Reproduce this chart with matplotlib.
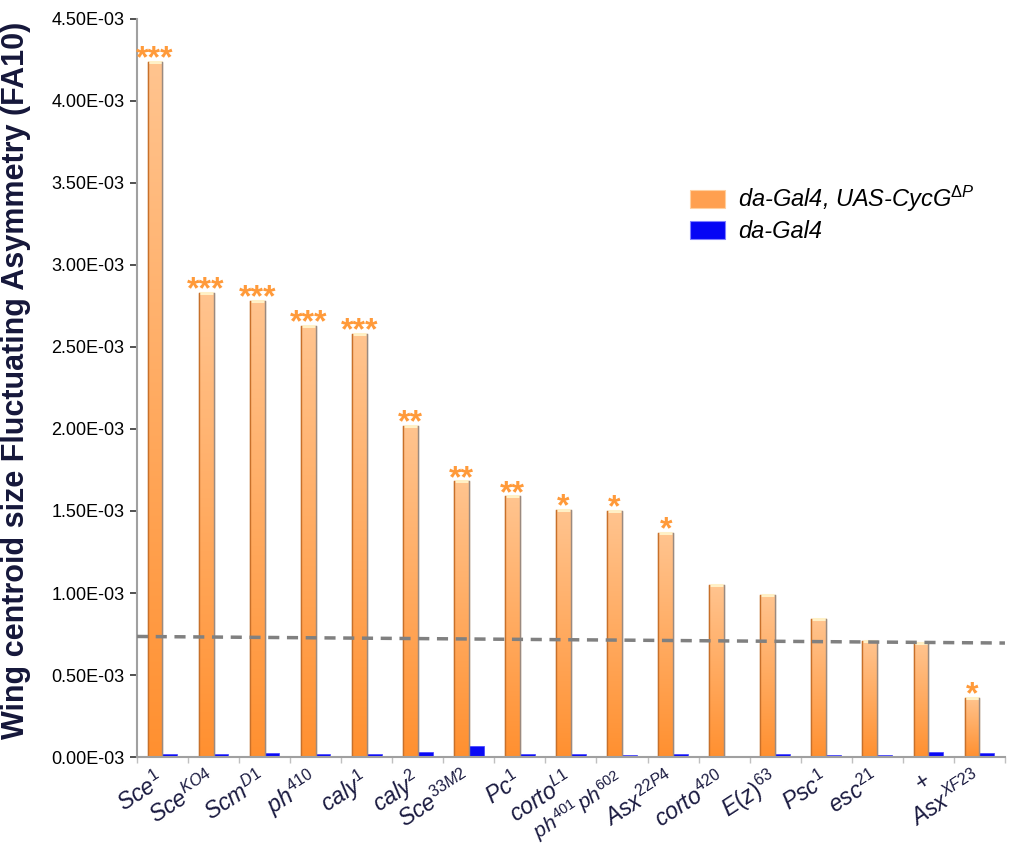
import matplotlib
matplotlib.use("Agg")
import matplotlib.pyplot as plt
import numpy as np
from matplotlib.patches import Patch
from matplotlib.colors import LinearSegmentedColormap
from matplotlib.ticker import FuncFormatter, FixedLocator
from matplotlib.transforms import ScaledTranslation

plt.rcParams['font.family'] = ['Liberation Sans', 'DejaVu Sans']
plt.rcParams['mathtext.fontset'] = 'custom'
plt.rcParams['mathtext.rm'] = 'Liberation Sans'
plt.rcParams['mathtext.it'] = 'Liberation Sans:italic'
plt.rcParams['mathtext.bf'] = 'Liberation Sans:bold'

# ---- data ----
categories = [r'$\mathit{Sce}^{\mathit{1}}$', r'$\mathit{Sce}^{\mathit{KO4}}$', r'$\mathit{Scm}^{\mathit{D1}}$',
              r'$\mathit{ph}^{\mathit{410}}$', r'$\mathit{caly}^{\mathit{1}}$', r'$\mathit{caly}^{\mathit{2}}$',
              r'$\mathit{Sce}^{\mathit{33M2}}$', r'$\mathit{Pc}^{\mathit{1}}$', r'$\mathit{corto}^{\mathit{L1}}$',
              r'$\mathit{ph}^{\mathit{401}}\,\mathit{ph}^{\mathit{602}}$', r'$\mathit{Asx}^{\mathit{22P4}}$',
              r'$\mathit{corto}^{\mathit{420}}$', r'$\mathit{E(z)}^{\mathit{63}}$', r'$\mathit{Psc}^{\mathit{1}}$',
              r'$\mathit{esc}^{\mathit{21}}$', '+', r'$\mathit{Asx}^{\mathit{XF23}}$']
cycg_vals = [4.24e-3, 2.83e-3, 2.78e-3, 2.63e-3, 2.58e-3, 2.02e-3, 1.68e-3, 1.59e-3, 1.505e-3,
             1.50e-3, 1.365e-3, 1.046e-3, 0.985e-3, 0.84e-3, 0.706e-3, 0.695e-3, 0.36e-3]
gal4_vals = [0.016e-3, 0.016e-3, 0.024e-3, 0.018e-3, 0.020e-3, 0.033e-3, 0.067e-3, 0.020e-3, 0.016e-3,
             0.010e-3, 0.018e-3, 0.008e-3, 0.016e-3, 0.012e-3, 0.010e-3, 0.030e-3, 0.024e-3]
stars = ['***', '***', '***', '***', '***', '**', '**', '**', '*', '*', '*', '', '', '', '', '', '*']
ref_line = [0.735e-3, 0.695e-3]
legend_labels = [r'da-Gal4, UAS-CycG$^{\mathit{\Delta P}}$', 'da-Gal4']

# ---- figure ----
fig = plt.figure(figsize=(10.10, 8.43), dpi=100)
ax = fig.add_axes([0.1356, 0.102, 0.8594, 0.8755])

n = len(categories)
x = np.arange(n)
bw = 0.29
bars_o = ax.bar(x - bw / 2, cycg_vals, width=bw, color='#ffa655', edgecolor='#b97a45',
                linewidth=0.9, zorder=2)
bars_b = ax.bar(x + bw / 2, gal4_vals, width=bw, color='#0a0af5', edgecolor='#4040ff',
                linewidth=0.5, zorder=2)

cmap = LinearSegmentedColormap.from_list('og', ['#ff9030', '#ffc48f'])
grad = np.linspace(0, 1, 256).reshape(-1, 1)
for p in bars_o:
    x0, w, h = p.get_x(), p.get_width(), p.get_height()
    im = ax.imshow(grad, extent=[x0, x0 + w, 0, h], origin='lower', aspect='auto',
                   cmap=cmap, zorder=2.1, interpolation='bicubic')
    im.set_clip_path(p)
    ax.plot([x0 + w * 0.05, x0 + w * 0.95], [h, h], color='#fff0c6', lw=2.2,
            solid_capstyle='butt', zorder=2.3)
    ax.plot([x0, x0], [0, h], color='#c8702a', lw=1.0, zorder=2.4)
    ax.plot([x0 + w, x0 + w], [0, h], color='#9a8a80', lw=1.0, zorder=2.4)

for p, s in zip(bars_o, stars):
    if s:
        ax.annotate(s, (p.get_x() + p.get_width() / 2, p.get_height()), xytext=(0, -4),
                    textcoords='offset points', ha='center', va='baseline',
                    color='#ff9a3a', fontsize=23, fontweight='bold', zorder=4)

ax.plot([-0.5, n - 0.5], ref_line, color='#808080', lw=2.5, ls=(0, (3.2, 2.2)), zorder=3)

ax.set_xlim(-0.5, n - 0.5)
ax.set_ylim(0, 4.5e-3)
ax.yaxis.set_major_locator(FixedLocator(np.arange(0, 4.51e-3, 0.5e-3)))
ax.yaxis.set_major_formatter(FuncFormatter(lambda v, pos: '%.2fE-03' % (v * 1e3)))
ax.tick_params(axis='y', labelsize=13, length=5, width=1.2, color='#333333', pad=4)

ax.set_xticks(x)
ax.set_xticklabels(categories, rotation=33, ha='right', va='center', rotation_mode='anchor',
                   fontsize=16.5, color='#1a1a40')
shift = ScaledTranslation(8 / 72, 0, fig.dpi_scale_trans)
for lab in ax.get_xticklabels():
    lab.set_transform(lab.get_transform() + shift)
    if 'ph}^{\\mathit{401' in lab.get_text():
        lab.set_fontsize(15)
ax.set_xticks(np.arange(-0.5, n, 1.0), minor=True)
ax.tick_params(axis='x', which='major', length=0, pad=15)
ax.tick_params(axis='x', which='minor', length=4, width=1, color='#c0c0c0')

for sp in ['top', 'right']:
    ax.spines[sp].set_visible(False)
ax.spines['left'].set_color('#a0a0a0')
ax.spines['left'].set_linewidth(1.5)
ax.spines['bottom'].set_color('#a0a0a0')
ax.spines['bottom'].set_linewidth(1.5)

ax.set_ylabel('Wing centroid size Fluctuating Asymmetry (FA10)', fontsize=22,
              fontweight='bold', color='#15173a')
ax.yaxis.set_label_coords(-0.122, 0.51)

handles = [Patch(facecolor='#ffa050', edgecolor='#ffd0a0', linewidth=0.8),
           Patch(facecolor='#0505f5', edgecolor='#8080ff', linewidth=0.8)]
leg = fig.legend(handles, legend_labels, loc='upper left', bbox_to_anchor=(0.683, 0.782),
                 frameon=False, prop={'style': 'italic', 'size': 17}, handlelength=1.5,
                 handleheight=0.8, handletextpad=0.55, labelspacing=0.25, borderpad=0,
                 borderaxespad=0)

fig.savefig('out.png', dpi=100)
